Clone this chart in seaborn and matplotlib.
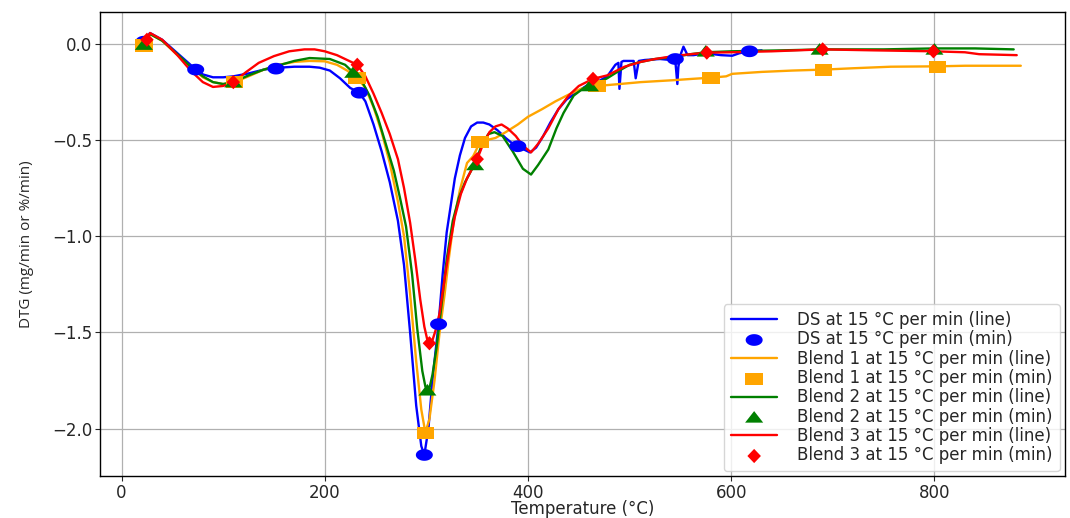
import matplotlib
matplotlib.use("Agg")
import matplotlib.pyplot as plt
import seaborn as sns
import pandas as pd
import numpy as np

# ---------------- data ----------------
ds_T = [22, 28, 40, 55, 70, 80, 90, 100, 110, 125, 140, 155, 170, 185, 195, 205, 215, 225, 234,
        240, 248, 256, 264, 272, 278, 284, 290, 295, 298, 302, 306, 309, 312, 316, 320, 324, 328,
        333, 338, 344, 350, 356, 362, 370, 378, 385, 390, 396, 402, 408, 415, 422, 430, 438, 446,
        453, 460, 468, 478, 486, 489, 490, 492, 494, 500, 504, 506, 509, 515, 530, 540, 545, 547,
        548, 550, 553, 557, 563, 575, 590, 601, 608, 618, 630]
ds_v = [0.01, 0.055, 0.02, -0.05, -0.12, -0.16, -0.175, -0.175, -0.17, -0.155, -0.135, -0.125, -0.12,
        -0.12, -0.125, -0.14, -0.18, -0.23, -0.255,
        -0.30, -0.42, -0.56, -0.72, -0.92, -1.15, -1.5, -1.88, -2.09, -2.136, -2.0, -1.75, -1.6, -1.457,
        -1.2, -0.98, -0.84, -0.70, -0.58, -0.49, -0.43, -0.41, -0.41, -0.42, -0.45, -0.49, -0.52, -0.533,
        -0.55, -0.565, -0.54, -0.48, -0.41, -0.34, -0.29, -0.26, -0.235, -0.21, -0.2, -0.17, -0.11, -0.1,
        -0.235, -0.095, -0.09, -0.09, -0.09, -0.18, -0.09, -0.085, -0.08, -0.085, -0.09, -0.21, -0.12,
        -0.06, -0.016, -0.06, -0.06, -0.05, -0.06, -0.063, -0.05, -0.04, -0.035]
ds_min_T = [22, 73, 152, 234, 298, 312, 390, 545, 618]
ds_min_v = [0.01, -0.135, -0.13, -0.255, -2.136, -1.457, -0.533, -0.08, -0.04]

b1_T = [22, 28, 40, 55, 70, 80, 90, 100, 111, 125, 140, 155, 170, 185, 200, 212, 222, 232, 240, 248,
        256, 264, 272, 278, 284, 290, 295, 299, 303, 308, 313, 318, 322, 327, 333, 340, 346, 353, 360,
        368, 378, 390, 400, 414, 427, 440, 452, 460, 468, 490, 511, 543, 562, 580, 595, 601, 630, 660,
        691, 720, 757, 803, 830, 854, 885]
b1_v = [-0.01, 0.05, 0.015, -0.06, -0.13, -0.175, -0.2, -0.21, -0.2, -0.17, -0.135, -0.11, -0.095,
        -0.09, -0.092, -0.11, -0.14, -0.178, -0.23, -0.33, -0.46, -0.62, -0.82, -1.0, -1.3, -1.65, -1.9,
        -2.02, -1.95, -1.75, -1.5, -1.3, -1.12, -0.92, -0.76, -0.62, -0.585, -0.51, -0.5, -0.49, -0.46,
        -0.42, -0.38, -0.34, -0.30, -0.265, -0.235, -0.225, -0.22, -0.21, -0.2, -0.19, -0.183, -0.177,
        -0.17, -0.157, -0.147, -0.14, -0.135, -0.128, -0.12, -0.118, -0.115, -0.115, -0.115]
b1_min_T = [22, 111, 232, 299, 353, 468, 580, 691, 803]
b1_min_v = [-0.01, -0.2, -0.178, -2.02, -0.51, -0.22, -0.177, -0.135, -0.12]

b2_T = [22, 28, 40, 55, 70, 80, 90, 100, 110, 125, 140, 150, 170, 185, 205, 220, 228, 236, 244, 252,
        260, 268, 274, 280, 286, 291, 296, 299, 301, 303, 306, 310, 314, 320, 326, 332, 338, 343, 348,
        355, 361, 367, 375, 385, 395, 403, 410, 420, 428, 435, 445, 455, 461, 470, 478, 490, 500, 511,
        525, 543, 560, 575, 600, 650, 690, 750, 800, 840, 878]
b2_v = [-0.005, 0.05, 0.015, -0.055, -0.13, -0.17, -0.2, -0.21, -0.2, -0.165, -0.135, -0.12, -0.09,
        -0.075, -0.08, -0.11, -0.15, -0.19, -0.27, -0.38, -0.52, -0.66, -0.8, -0.95, -1.2, -1.48, -1.7,
        -1.78, -1.80, -1.79, -1.72, -1.58, -1.4, -1.12, -0.92, -0.8, -0.72, -0.67, -0.62, -0.52, -0.47,
        -0.46, -0.48, -0.56, -0.65, -0.68, -0.63, -0.55, -0.44, -0.36, -0.27, -0.23, -0.22, -0.2, -0.18,
        -0.14, -0.11, -0.095, -0.08, -0.07, -0.055, -0.045, -0.04, -0.035, -0.03, -0.03, -0.025, -0.025,
        -0.03]
b2_min_T = [22, 110, 228, 301, 348, 461, 575, 687, 800]
b2_min_v = [-0.005, -0.2, -0.15, -1.80, -0.63, -0.22, -0.04, -0.03, -0.03]

b3_T = [25, 28, 40, 55, 68, 80, 90, 100, 110, 122, 135, 150, 165, 180, 190, 200, 212, 222, 232, 240,
        248, 256, 264, 272, 278, 284, 289, 294, 298, 301, 303, 306, 309, 313, 318, 323, 328, 334, 340,
        345, 350, 356, 362, 368, 374, 380, 388, 395, 403, 410, 420, 430, 440, 450, 464, 478, 495, 511,
        525, 543, 560, 576, 600, 640, 690, 740, 799, 830, 844, 881]
b3_v = [0.02, 0.055, 0.02, -0.06, -0.14, -0.2, -0.225, -0.22, -0.2, -0.15, -0.1, -0.065, -0.04, -0.03,
        -0.03, -0.04, -0.06, -0.085, -0.11, -0.17, -0.26, -0.36, -0.47, -0.6, -0.75, -0.93, -1.12, -1.33,
        -1.47, -1.54, -1.556, -1.54, -1.49, -1.4, -1.22, -1.05, -0.9, -0.78, -0.7, -0.65, -0.6, -0.52,
        -0.46, -0.43, -0.42, -0.44, -0.48, -0.53, -0.565, -0.52, -0.44, -0.34, -0.27, -0.22, -0.183,
        -0.165, -0.12, -0.095, -0.08, -0.065, -0.055, -0.047, -0.045, -0.04, -0.03, -0.035, -0.04, -0.045,
        -0.055, -0.06]
b3_min_T = [25, 110, 232, 303, 350, 464, 576, 690, 799]
b3_min_v = [0.02, -0.2, -0.11, -1.556, -0.60, -0.183, -0.047, -0.03, -0.04]

series_names = ["DS", "Blend 1", "Blend 2", "Blend 3"]
series_colors = ["blue", "orange", "green", "red"]

# marker shapes (slightly wide, as in the reference picture)
_t = np.linspace(0, 2 * np.pi, 40)
m_circle = list(zip(1.45 * np.cos(_t), np.sin(_t)))
m_square = [(-1.45, -1), (1.45, -1), (1.45, 1), (-1.45, 1), (-1.45, -1)]
m_tri = [(-1.45, -0.85), (1.45, -0.85), (0, 1.0), (-1.45, -0.85)]
m_diam = [(0, -1.05), (1, 0), (0, 1.05), (-1, 0), (0, -1.05)]
series_markers = [m_circle, m_square, m_tri, m_diam]
marker_sizes = [150, 160, 170, 105]

# ---------------- plot ----------------
sns.set_style("ticks")
plt.rcParams["font.family"] = ["DejaVu Sans"]

fig = plt.figure(figsize=(10.7, 5.18), dpi=100)
ax = fig.add_axes([0.0935, 0.081, 0.9015, 0.896])

lines = [(ds_T, ds_v, ds_min_T, ds_min_v), (b1_T, b1_v, b1_min_T, b1_min_v),
         (b2_T, b2_v, b2_min_T, b2_min_v), (b3_T, b3_v, b3_min_T, b3_min_v)]

for (T, v, mT, mv), name, col, mk, ms in zip(lines, series_names, series_colors, series_markers, marker_sizes):
    df = pd.DataFrame({"T": T, "v": v})
    sns.lineplot(data=df, x="T", y="v", color=col, linewidth=1.7, sort=False,
                 label=f"{name} at 15 °C per min (line)", ax=ax)
    dm = pd.DataFrame({"T": mT, "v": mv})
    sns.scatterplot(data=dm, x="T", y="v", color=col, marker=mk, s=ms, edgecolor="none",
                    label=f"{name} at 15 °C per min (min)", ax=ax, zorder=3)

ax.grid(True, color="#b0b0b0", linewidth=0.9)
ax.set_xticks([0, 200, 400, 600, 800])
ax.set_yticks([0.0, -0.5, -1.0, -1.5, -2.0])
ax.tick_params(labelsize=12, pad=2, length=3.5)
ax.set_xlabel("Temperature (°C)", fontsize=12, labelpad=-1)
ax.set_ylabel("DTG (mg/min or %/min)", fontsize=11, family=["Open Sans", "DejaVu Sans"], labelpad=13)
for s in ax.spines.values():
    s.set_color("black")
    s.set_linewidth(1.0)

leg = ax.legend(loc="lower right", fontsize=12, frameon=True, handlelength=2.8,
                borderaxespad=0.3, labelspacing=0.08, handletextpad=1.2, borderpad=0.4)
leg.get_frame().set_edgecolor("#cccccc")

fig.savefig("out.png", dpi=100)
